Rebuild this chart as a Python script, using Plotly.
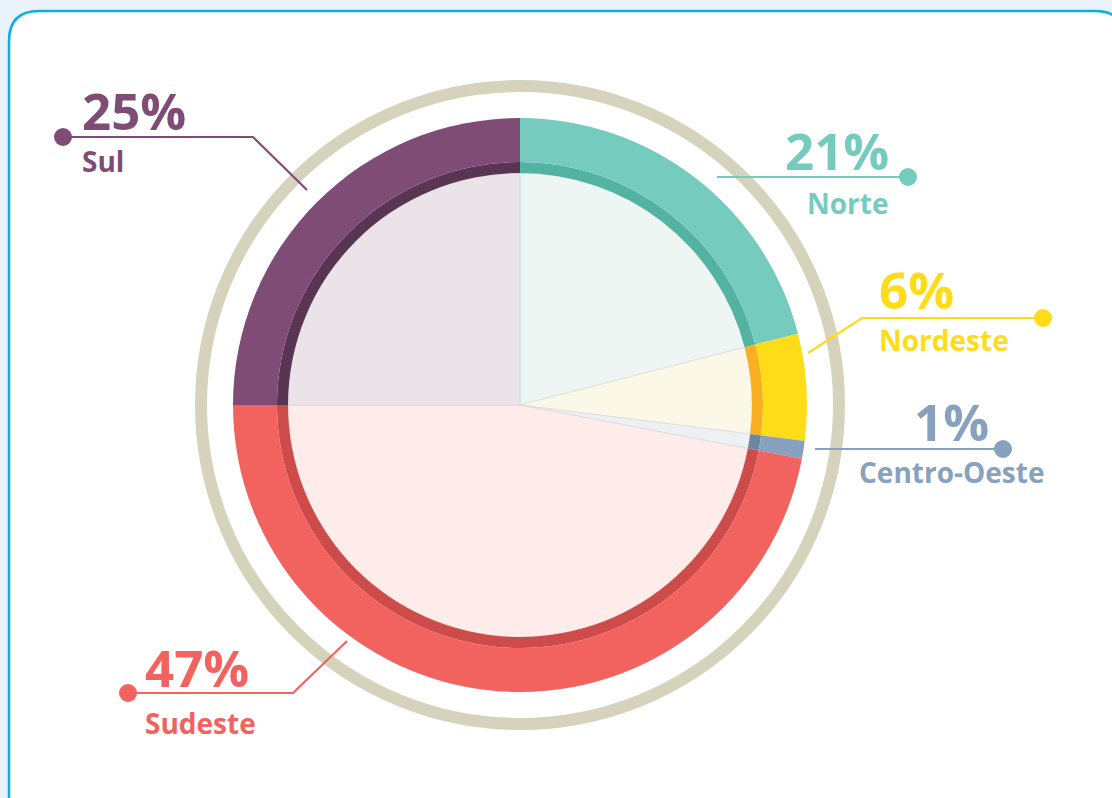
import plotly.graph_objects as go

# ---- data ----
regions = ["Norte", "Nordeste", "Centro-Oeste", "Sudeste", "Sul"]
shares = [21, 6, 1, 47, 25]
pct_labels = ["21%", "6%", "1%", "47%", "25%"]

outer_colors = ["#76CBBF", "#FEDC17", "#87A1BE", "#F2625F", "#7F4C75"]
band_colors = ["#53B3A3", "#F8B020", "#6B87A4", "#CD4C49", "#573553"]
light_colors = ["#EEF6F4", "#FCF8E8", "#EEF1F4", "#FDECE9", "#EAE3E8"]

W, H = 1112, 798
CX, CY = 520, 405
R_OUT, R_BAND, R_IN = 287, 243, 232


def dom(r):
    yb = H - CY
    return dict(x=[(CX - r) / W, (CX + r) / W], y=[(yb - r) / H, (yb + r) / H])


fig = go.Figure()

# dummy trace so pixel-like axes exist for shapes/annotations
fig.add_trace(go.Scatter(x=[0, W], y=[0, H], mode="markers",
                         marker=dict(opacity=0), hoverinfo="skip", showlegend=False))

common = dict(labels=regions, values=shares, sort=False, direction="clockwise",
              rotation=0, textinfo="none", hoverinfo="label+percent", showlegend=False)

fig.add_trace(go.Pie(domain=dom(R_IN),
                     marker=dict(colors=light_colors,
                                 line=dict(color="rgba(200,200,200,0.7)", width=0.6)),
                     **common))
fig.add_trace(go.Pie(domain=dom(R_BAND), hole=R_IN / R_BAND,
                     marker=dict(colors=band_colors, line=dict(width=0)), **common))
fig.add_trace(go.Pie(domain=dom(R_OUT), hole=R_BAND / R_OUT,
                     marker=dict(colors=outer_colors, line=dict(width=0)), **common))

shapes = []
# card
x0, y0, x1, y1, r = 9, 11, 1125, 815, 30
path = (f"M {x0},{y1} L {x0},{y0 + r} Q {x0},{y0} {x0 + r},{y0} "
        f"L {x1 - r},{y0} Q {x1},{y0} {x1},{y0 + r} L {x1},{y1} Z")
shapes.append(dict(type="path", path=path, xref="x", yref="y", layer="below",
                   fillcolor="white", line=dict(color="#0AAEEB", width=2.5)))
# beige ring
RB = 319
shapes.append(dict(type="circle", xref="x", yref="y", x0=CX - RB, x1=CX + RB,
                   y0=CY - RB, y1=CY + RB, line=dict(color="#D6D3BC", width=12),
                   layer="above"))

# leader lines (pixel paths) and dots
leaders = {
    "Sul": ([(63, 137), (253, 137), (307, 190)], (63, 137)),
    "Norte": ([(717, 177), (908, 177)], (908, 177)),
    "Nordeste": ([(808, 353), (862, 318), (1043, 318)], (1043, 318)),
    "Centro-Oeste": ([(815, 449), (1003, 449)], (1003, 449)),
    "Sudeste": ([(128, 693), (293, 693), (347, 641)], (128, 693)),
}
for i, reg in enumerate(regions):
    pts, dot = leaders[reg]
    p = "M " + " L ".join(f"{a},{b}" for a, b in pts)
    shapes.append(dict(type="path", path=p, xref="x", yref="y",
                       line=dict(color=outer_colors[i], width=2.2), layer="above"))
    dr = 9
    shapes.append(dict(type="circle", xref="x", yref="y", x0=dot[0] - dr, x1=dot[0] + dr,
                       y0=dot[1] - dr, y1=dot[1] + dr, fillcolor=outer_colors[i],
                       line=dict(width=0), layer="above"))

# text positions: (x, y_pct, y_name, anchor)
text_pos = {
    "Norte": (891, 150, 203, "right"),
    "Nordeste": (877, 289, 340, "left"),
    "Centro-Oeste": (1046, 421, 472, "right"),
    "Sudeste": (143, 667, 723, "left"),
    "Sul": (80, 110, 161, "left"),
}
annotations = []
FONT = "Open Sans"
for i, reg in enumerate(regions):
    x, yp, yn, anc = text_pos[reg]
    xp = x
    if reg == "Centro-Oeste":
        xp = 991
    annotations.append(dict(x=xp, y=yp, xref="x", yref="y", text=f"<b>{pct_labels[i]}</b>",
                            showarrow=False, xanchor=anc, yanchor="middle",
                            font=dict(family=FONT, size=51, color=outer_colors[i])))
    annotations.append(dict(x=x, y=yn, xref="x", yref="y", text=f"<b>{reg}</b>",
                            showarrow=False, xanchor=anc, yanchor="middle",
                            font=dict(family=FONT, size=28, color=outer_colors[i])))

fig.update_layout(
    width=W, height=H,
    margin=dict(l=0, r=0, t=0, b=0),
    paper_bgcolor="#E9F3F9",
    plot_bgcolor="rgba(0,0,0,0)",
    xaxis=dict(range=[0, W], visible=False, fixedrange=True),
    yaxis=dict(range=[H, 0], visible=False, fixedrange=True),
    shapes=shapes,
    annotations=annotations,
    showlegend=False,
)

fig.write_html("out.html", config={"displayModeBar": False},
               post_script="document.body.style.margin='0';document.body.style.overflow='hidden';")
